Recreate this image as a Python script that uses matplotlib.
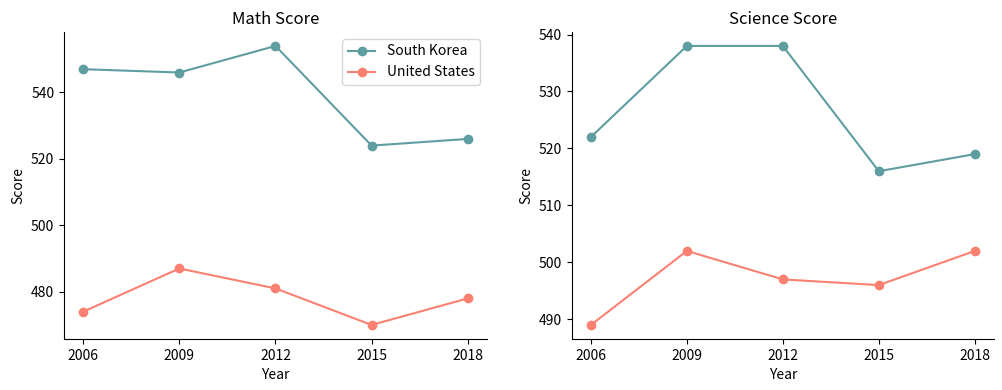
import matplotlib
matplotlib.use('Agg')
import matplotlib.pyplot as plt

plt.rcParams['font.family'] = ['Noto Sans CJK KR', 'DejaVu Sans']

years = [2006, 2009, 2012, 2015, 2018]
math_korea = [547, 546, 554, 524, 526]
math_us = [474, 487, 481, 470, 478]
science_korea = [522, 538, 538, 516, 519]
science_us = [489, 502, 497, 496, 502]

korea_color = '#5F9EA0'
us_color = '#FA8072'

fig = plt.figure(figsize=(10.03, 3.9), dpi=100)
ax1 = fig.add_axes([0.0638, 0.131, 0.4217, 0.787])
ax2 = fig.add_axes([0.570, 0.131, 0.421, 0.787])

ax1.plot(years, math_korea, marker='o', color=korea_color, label='South Korea')
ax1.plot(years, math_us, marker='o', color=us_color, label='United States')
ax1.set_title('Math Score')
ax1.legend(loc='upper right')

ax2.plot(years, science_korea, marker='o', color=korea_color)
ax2.plot(years, science_us, marker='o', color=us_color)
ax2.set_title('Science Score')

for ax in (ax1, ax2):
    ax.set_xticks(years)
    ax.set_xlabel('Year')
    ax.set_ylabel('Score')
    ax.spines['top'].set_visible(False)
    ax.spines['right'].set_visible(False)

fig.savefig('out.png', dpi=100)
